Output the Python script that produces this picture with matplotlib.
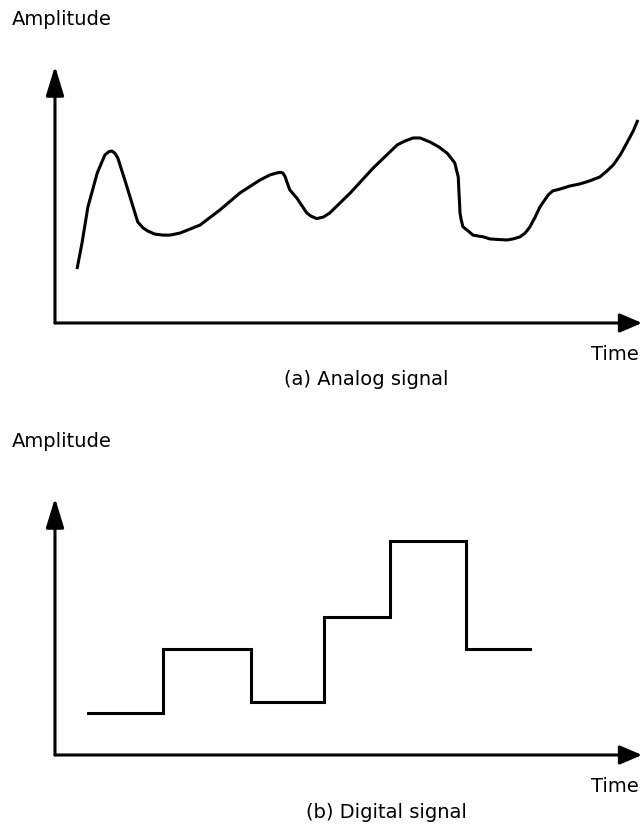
import matplotlib
matplotlib.use("Agg")
import matplotlib.pyplot as plt

# analog signal (time and amplitude in % of the axis length)
analog_t = [3.75, 4.6, 5.6, 7.2, 8.5, 9.2, 9.7, 10.2, 10.7, 11.9, 13.1, 14.1,
            15.0, 15.8, 17.0, 18.4, 19.6, 21.3, 24.7, 28.1, 31.5, 34.9, 36.6,
            37.8, 38.3, 38.8, 39.2, 39.5, 40.0, 41.2, 42.9, 43.6, 44.3, 44.6,
            45.1, 45.7, 46.8, 50.3, 54.2, 58.3, 59.6, 61.0, 62.2, 63.9, 65.4,
            66.8, 67.6, 68.1, 68.7, 68.8, 69.0, 69.2, 69.5, 70.4, 71.2, 73.0,
            74.1, 77.0, 78.0, 79.2, 80.1, 80.9, 81.8, 82.6, 84.0, 84.8, 86.0,
            87.7, 89.4, 91.1, 92.8, 94.0, 95.1, 96.3, 97.4, 98.5, 99.3]
analog_a = [21.0, 31.1, 45.1, 58.4, 65.4, 66.7, 66.9, 66.1, 64.2, 55.6, 46.7, 39.3,
            37.0, 35.8, 34.6, 34.2, 34.2, 35.0, 38.1, 44.0, 50.6, 55.6, 57.6,
            58.4, 58.6, 58.4, 57.0, 54.9, 51.8, 48.6, 42.8, 41.6, 40.9, 40.6,
            40.9, 41.2, 42.8, 50.6, 60.3, 69.3, 70.8, 72.0, 72.0, 70.4, 68.5,
            66.1, 63.8, 62.3, 56.8, 51.8, 42.8, 40.1, 37.4, 35.8, 34.2, 33.5,
            32.7, 32.3, 32.7, 33.5, 35.0, 37.4, 41.2, 45.1, 49.8, 51.4, 52.1,
            53.3, 54.1, 55.3, 56.8, 59.1, 61.5, 65.4, 70.0, 74.7, 79.0]

# digital signal: step edges and the level held after each edge
digital_t = [5.6, 18.4, 33.4, 45.8, 57.1, 70.0, 80.9]
digital_a = [16.3, 41.2, 20.6, 53.7, 83.3, 41.2, 41.2]

W, H = 642, 827
fig = plt.figure(figsize=(W / 100, H / 100), dpi=100)
plt.rcParams['font.family'] = ['DejaVu Sans']
FS = 14
LW = 2.2


def panel(y_axis_px):
    # axes box: left edge at the y axis, bottom at the time axis
    ax = fig.add_axes([55 / W, 1 - y_axis_px / H, (W - 55) / W, 257 / H])
    ax.set_xlim(0, 100)
    ax.set_ylim(0, 100)
    ax.axis('off')
    ax.annotate('', xy=(0, 1), xytext=(0, 0), xycoords='axes fraction',
                arrowprops=dict(arrowstyle='-|>,head_length=1.8,head_width=0.55',
                                lw=LW, color='black', mutation_scale=10,
                                shrinkA=0, shrinkB=0))
    ax.annotate('', xy=(1, 0), xytext=(0, 0), xycoords='axes fraction',
                arrowprops=dict(arrowstyle='-|>,head_length=1.35,head_width=0.58',
                                lw=LW, color='black', mutation_scale=10,
                                shrinkA=0, shrinkB=0))
    return ax


def label(x_px, y_px, s, ha):
    fig.text(x_px / W, 1 - y_px / H, s, ha=ha, va='baseline', fontsize=FS)


# (a) analog
ax1 = panel(323)
ax1.plot(analog_t, analog_a, color='black', lw=LW, solid_joinstyle='round',
         solid_capstyle='butt')
label(12, 25, 'Amplitude', 'left')
label(639, 360, 'Time', 'right')
label(366, 385, '(a) Analog signal', 'center')

# (b) digital
ax2 = panel(755)
ax2.step(digital_t, digital_a, where='post', color='black', lw=LW,
         solid_joinstyle='miter')
label(12, 447, 'Amplitude', 'left')
label(639, 792, 'Time', 'right')
label(386, 818, '(b) Digital signal', 'center')

fig.savefig('out.png', dpi=100, facecolor='white')
